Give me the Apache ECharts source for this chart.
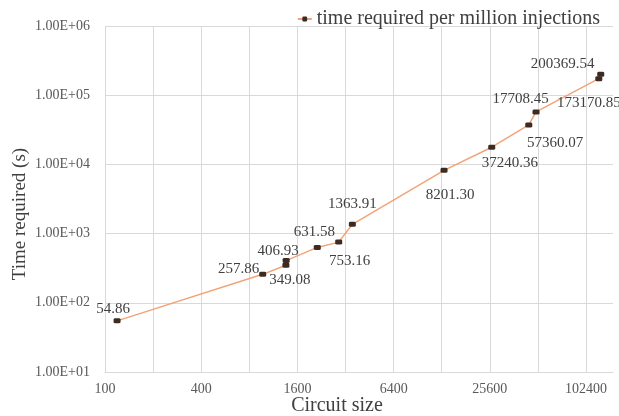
<!DOCTYPE html>
<html>
<head>
<meta charset="utf-8">
<script src="https://cdn.jsdelivr.net/npm/echarts@6/dist/echarts.min.js"></script>
<style>
html,body{margin:0;padding:0;background:#ffffff;}
#chart{width:619px;height:416px;}
</style>
</head>
<body>
<div id="chart"></div>
<script>
// ---- data ----
const seriesName = 'time required per million injections';
const circuitSizes = [119, 970, 1355, 1360, 2130, 2900, 3530, 13230, 26300, 44850, 49800, 123000, 126500];
const timeRequired = [54.86, 257.86, 349.08, 406.93, 631.58, 753.16, 1363.91, 8201.30, 17708.45, 37240.36, 57360.07, 173170.85, 200369.54];
const xTickLabels = [100, 400, 1600, 6400, 25600, 102400];
const yTickLabels = ['1.00E+01', '1.00E+02', '1.00E+03', '1.00E+04', '1.00E+05', '1.00E+06'];
const xAxisTitle = 'Circuit size';
const yAxisTitle = 'Time required (s)';

// ---- label placement (style, px offsets of label centre from each marker centre) ----
const labelOffsets = [[-4,-12],[-24,-5],[4,15],[-8,-10],[-3,-15],[11,19],[0,-20],[6,25],[29,-48],[-19,38],[19,31],[-10,24],[-38,-10]];

const serif = '"Liberation Serif", "Times New Roman", serif';
const xBase = 100;   // first x tick value
const xStep = 2;     // gridline every doubling
const symW = 7, symH = 5;

const chart = echarts.init(document.getElementById('chart'), null, {renderer: 'canvas'});

const data = circuitSizes.map((s, i) => ({
  value: [Math.log(s / xBase) / Math.log(xStep), timeRequired[i]],
  label: {position: [symW / 2 + labelOffsets[i][0], symH / 2 + labelOffsets[i][1]]}
}));

chart.setOption({
  animation: false,
  backgroundColor: '#ffffff',
  grid: {left: 105, right: 6, top: 26, bottom: 44, containLabel: false},
  legend: {
    data: [seriesName],
    right: 19, top: 9, padding: 0,
    itemWidth: 14, itemHeight: 6, itemGap: 6,
    textStyle: {fontFamily: serif, fontSize: 20, color: '#404040'}
  },
  xAxis: {
    type: 'value',
    min: 0, max: 10.56, interval: 1,
    axisLine: {show: true, lineStyle: {color: '#d9d9d9', width: 1}},
    axisTick: {show: false},
    splitLine: {show: true, showMaxLine: false, lineStyle: {color: '#d9d9d9', width: 1}},
    axisLabel: {
      showMaxLabel: false,
      margin: 10,
      fontFamily: serif, fontSize: 14, color: '#595959',
      formatter: function (v) {
        const val = Math.round(xBase * Math.pow(xStep, v));
        return (Math.abs(v - Math.round(v)) < 1e-6 && xTickLabels.indexOf(val) >= 0) ? String(val) : '';
      }
    }
  },
  yAxis: {
    type: 'log', logBase: 10,
    min: 10, max: 1000000,
    axisLine: {show: false},
    axisTick: {show: false},
    minorSplitLine: {show: false},
    splitLine: {show: true, lineStyle: {color: '#d9d9d9', width: 1}},
    axisLabel: {
      margin: 15,
      fontFamily: serif, fontSize: 14, color: '#595959',
      formatter: function (v) {
        const e = Math.round(Math.log10(v));
        return yTickLabels[e - 1] || '';
      }
    }
  },
  graphic: [
    {type: 'text', x: 20, y: 214, rotation: Math.PI / 2,
     style: {text: yAxisTitle, fontFamily: serif, fontSize: 19, fill: '#404040',
             align: 'center', verticalAlign: 'middle', textAlign: 'center', textVerticalAlign: 'middle'}},
    {type: 'text', x: 337, y: 406,
     style: {text: xAxisTitle, fontFamily: serif, fontSize: 20, fill: '#404040',
             align: 'center', verticalAlign: 'middle', textAlign: 'center', textVerticalAlign: 'middle'}}
  ],
  series: [{
    name: seriesName,
    type: 'line',
    data: data,
    symbol: 'roundRect',
    symbolSize: [symW, symH],
    itemStyle: {color: '#3d2b22'},
    lineStyle: {color: '#F2A477', width: 1.5},
    label: {
      show: true,
      align: 'center', verticalAlign: 'middle',
      fontFamily: serif, fontSize: 15, color: '#404040',
      formatter: function (p) { return p.value[1].toFixed(2); }
    },
    labelLayout: {hideOverlap: false},
    emphasis: {disabled: true}
  }]
});
</script>
</body>
</html>
